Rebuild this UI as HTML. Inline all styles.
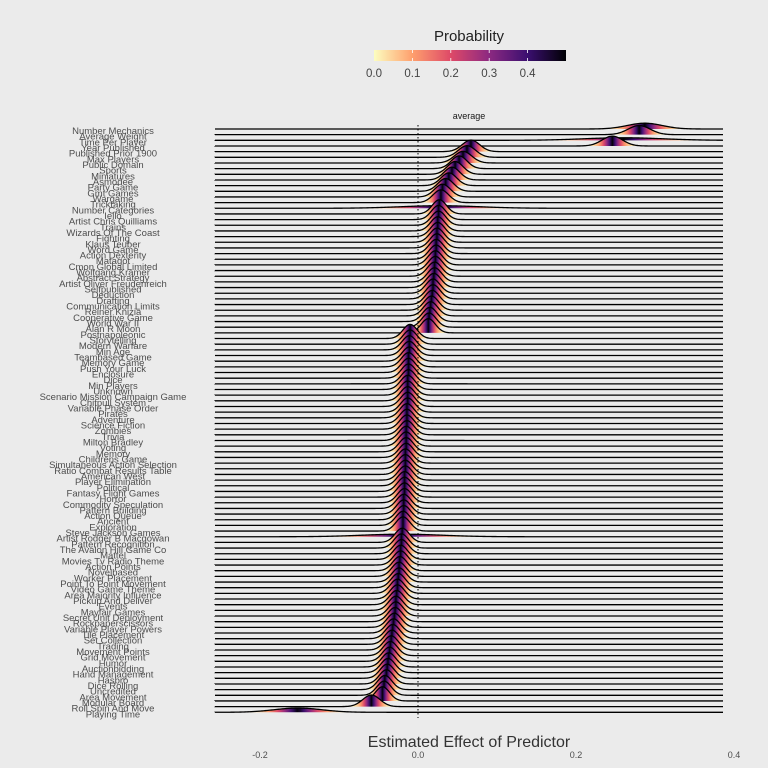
<!DOCTYPE html>
<html><head><meta charset="utf-8"><style>
body{margin:0;background:#ebebeb;}
svg{display:block;font-family:"Liberation Sans",sans-serif;}
</style></head><body>
<svg id="chart" width="768" height="768" viewBox="0 0 768 768">
<rect width="768" height="768" fill="#ebebeb"/>
<defs id="defs"></defs>
<g>
<text x="469" y="41" font-size="15" text-anchor="middle" fill="#222">Probability</text>
<rect id="cbar" x="374" y="50" width="192" height="11"/>
<g id="cbticks"></g>
</g>
<text x="469" y="119" font-size="9" text-anchor="middle" fill="#1a1a1a">average</text>
<g id="ridges"></g>
<line id="zeroline" x1="418" y1="125" x2="418" y2="718" stroke="#000" stroke-width="1" stroke-dasharray="1.5,2.5"/>
<g id="labels"></g>
<g id="xticks"></g>
<text x="469" y="747" font-size="16" text-anchor="middle" fill="#333">Estimated Effect of Predictor</text>
</svg>
<script>
const categories=["Number Mechanics","Average Weight","Time Per Player","Year Published","Published Prior 1900","Max Players","Public Domain","Sports","Miniatures","Asmodee","Party Game","Gmt Games","Wargame","Tricktaking","Number Categories","Iello","Artist Chris Quilliams","Trains","Wizards Of The Coast","Fighting","Klaus Teuber","Word Game","Action Dexterity","Matagot","Cmon Global Limited","Wolfgang Kramer","Abstract Strategy","Artist Oliver Freudenreich","Selfpublished","Deduction","Drafting","Communication Limits","Reiner Knizia","Cooperative Game","World War II","Alan R Moon","Postnapoleonic","Storytelling","Modern Warfare","Min Age","Teambased Game","Memory Game","Push Your Luck","Enclosure","Dice","Min Players","Unknown","Scenario Mission Campaign Game","Chitpull System","Variable Phase Order","Pirates","Adventure","Science Fiction","Zombies","Trivia","Milton Bradley","Voting","Memory","Childrens Game","Simultaneous Action Selection","Ratio Combat Results Table","American West","Player Elimination","Political","Fantasy Flight Games","Horror","Commodity Speculation","Pattern Building","Action Queue","Ancient","Exploration","Steve Jackson Games","Artist Rodger B Macgowan","Pattern Recognition","The Avalon Hill Game Co","Mattel","Movies Tv Radio Theme","Action Points","Novelbased","Worker Placement","Point To Point Movement","Video Game Theme","Area Majority Influence","Pickup And Deliver","Events","Mayfair Games","Secret Unit Deployment","Rockpaperscissors","Variable Player Powers","Tile Placement","Set Collection","Trading","Movement Points","Grid Movement","Humor","Auctionbidding","Hand Management","Hasbro","Dice Rolling","Uncredited","Area Movement","Modular Board","Roll Spin And Move","Playing Time"];
const means=[0.287,0.28,0.26,0.246,0.067,0.062,0.057,0.052,0.047,0.043,0.039,0.035,0.031,0.029,0.028,0.027,0.026,0.026,0.025,0.025,0.024,0.024,0.023,0.023,0.022,0.022,0.021,0.021,0.020,0.019,0.019,0.018,0.017,0.016,0.015,0.014,0.013,
-0.010,-0.010,-0.011,-0.011,-0.011,-0.012,-0.012,-0.012,-0.012,-0.013,-0.013,-0.013,-0.013,-0.013,
-0.014,-0.014,-0.014,-0.014,-0.015,-0.015,-0.015,-0.015,-0.016,-0.016,-0.016,-0.016,-0.017,-0.017,-0.017,-0.017,-0.018,-0.018,-0.018,-0.019,-0.019,
-0.020,-0.020,-0.021,-0.021,-0.022,-0.022,-0.023,-0.024,-0.024,-0.025,-0.026,-0.026,-0.027,-0.028,-0.028,-0.029,-0.030,-0.031,-0.032,-0.033,
-0.034,-0.035,-0.036,-0.037,-0.038,-0.039,-0.040,-0.042,-0.043,-0.045,-0.059,-0.152];
const sds=[0.022,0.014,0.05,0.013,0.011,0.011,0.011,0.01,0.01,0.01,0.01,0.01,0.01,0.01,0.05];
const wideRows={72:0.05,102:0.011,103:0.03};
const xTicks=[-0.2,0.0,0.2,0.4];
const xTickLabels=["-0.2","0.0","0.2","0.4"];
const cbTicks=[0.0,0.1,0.2,0.3,0.4];
const cbTickLabels=["0.0","0.1","0.2","0.3","0.4"];

const NS="http://www.w3.org/2000/svg";
const X0=215,X1=723;
function xs(v){return 418+v*790;}
function ys(i){return 129+i*5.663;}
function cbx(p){return 374+p*384;}
const K=0.32;
const magma=[[252,253,191],[254,159,109],[222,73,104],[140,41,129],[59,15,112],[0,0,4]];
function col(p){let t=Math.max(0,Math.min(1,p/0.5))*5;let i=Math.min(4,Math.floor(t));let f=t-i;const a=magma[i],b=magma[i+1];
return "rgb("+a.map((c,j)=>Math.round(c+(b[j]-c)*f)).join(",")+")";}
function erf(x){const s=x<0?-1:1;x=Math.abs(x);const t=1/(1+0.3275911*x);const y=1-(((((1.061405429*t-1.453152027)*t)+1.421413741)*t-0.284496736)*t+0.254829592)*t*Math.exp(-x*x);return s*y;}
function cdf(z){return 0.5*(1+erf(z/Math.SQRT2));}
function mk(tag,attrs,parent){const e=document.createElementNS(NS,tag);for(const k in attrs)e.setAttribute(k,attrs[k]);parent.appendChild(e);return e;}

const defs=document.getElementById('defs');
const cg=mk('linearGradient',{id:'cbg',x1:'0',x2:'1',y1:'0',y2:'0'},defs);
for(let s=0;s<=20;s++){mk('stop',{offset:(s/20),'stop-color':col(s/20*0.5)},cg);}
document.getElementById('cbar').setAttribute('fill','url(#cbg)');
const cbt=document.getElementById('cbticks');
cbTicks.forEach((v,i)=>{
 if(v>0){const l=mk('line',{x1:cbx(v),x2:cbx(v),y1:50,y2:53,stroke:'#fff','stroke-width':0.8},cbt);
 
 
 const l2=mk('line',{x1:cbx(v),x2:cbx(v),y1:58,y2:61,stroke:'#fff','stroke-width':0.8},cbt);
 
 }
 const t=mk('text',{x:cbx(v),y:77,'font-size':11.5,'text-anchor':'middle',fill:'#444'},cbt);
 t.textContent=cbTickLabels[i];
 
 
});

const rg=document.getElementById('ridges');
const lg=document.getElementById('labels');
categories.forEach((name,i)=>{
 const m=means[i];
 const sd=(i<sds.length)?sds[i]:(wideRows[i]||0.009);
 const y0=ys(i);
 const g=mk('linearGradient',{id:'g'+i,gradientUnits:'userSpaceOnUse',x1:X0,x2:X1,y1:0,y2:0},defs);
 let d="M"+X0+","+y0;
 for(let px=X0;px<=X1;px++){
  const v=(px-418)/790;const z=(v-m)/sd;
  const pdf=Math.exp(-0.5*z*z)/(sd*2.5066);
  d+=" L"+px+","+(y0-K*pdf).toFixed(2);
 }
 const lo=xs(m-4*sd),hi=xs(m+4*sd);
 const step=Math.max(0.5,(hi-lo)/60);
 mk('stop',{offset:0,'stop-color':col(0)},g);
 for(let px=Math.max(X0,lo);px<=Math.min(X1,hi);px+=step){
  const v=(px-418)/790;const c=cdf((v-m)/sd);
  mk('stop',{offset:((px-X0)/(X1-X0)).toFixed(4),'stop-color':col(Math.min(c,1-c))},g);
 }
 mk('stop',{offset:1,'stop-color':col(0)},g);
 const grp=mk('g',{},rg);
 
 
 const f=mk('path',{d:d+" L"+X1+","+y0+" Z",fill:'url(#g'+i+')'},grp);
 
 
 const s=mk('path',{d:d,fill:'none',stroke:'#000','stroke-width':1.3},grp);
 
 
 const t=mk('text',{x:113,y:y0+5,'font-size':9.5,'text-anchor':'middle',fill:'#4d4d4d'},lg);
 t.textContent=name;
 
 
});
const xt=document.getElementById('xticks');
xTicks.forEach((v,i)=>{
 const t=mk('text',{x:xs(v),y:758,'font-size':9,'text-anchor':'middle',fill:'#4d4d4d'},xt);
 t.textContent=xTickLabels[i];
 
 
});
</script>
</body></html>
